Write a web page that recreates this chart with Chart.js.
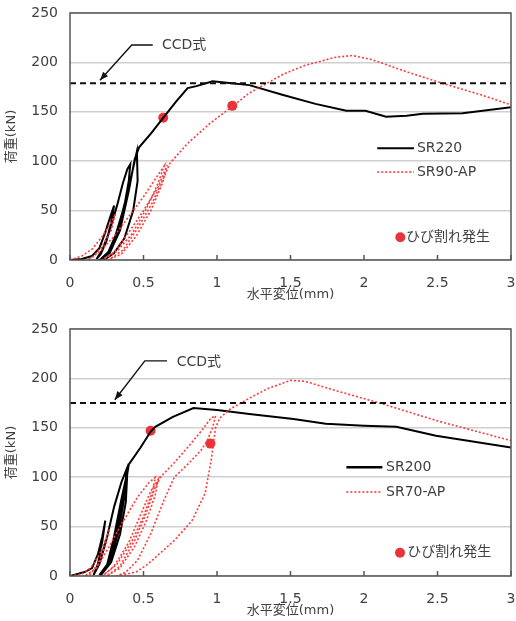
<!DOCTYPE html>
<html>
<head>
<meta charset="utf-8">
<script src="https://cdn.jsdelivr.net/npm/chart.js@4.4.1/dist/chart.umd.min.js"></script>
<style>
html, body { margin: 0; padding: 0; background: #fff; overflow: hidden; }
.box { position: absolute; left: 0; width: 516px; height: 302px; }
</style>
</head>
<body>
<div class="box" style="top:0"><canvas id="g1"></canvas></div>
<div class="box" style="top:316px"><canvas id="g2"></canvas></div>
<script>
// 軸
const xTicks = [0, 0.5, 1, 1.5, 2, 2.5, 3];
const yTicks = [0, 50, 100, 150, 200, 250];

// 上段: SR220 / SR90-AP  [変位(mm), 荷重(kN)]
const sr220 = [
  [0, 0], [0.08, 1], [0.15, 4], [0.2, 12], [0.24, 28], [0.27, 42], [0.3, 55],
  [0.28, 38], [0.25, 20], [0.21, 6], [0.18, 1],
  [0.22, 10], [0.27, 30], [0.32, 55], [0.36, 78], [0.39, 92], [0.41, 97],
  [0.4, 80], [0.37, 55], [0.33, 30], [0.27, 8], [0.21, 1],
  [0.26, 8], [0.31, 25], [0.36, 50], [0.41, 80], [0.44, 100], [0.455, 110],
  [0.46, 80], [0.43, 50], [0.37, 22], [0.3, 7], [0.24, 1], [0.2, 0],
  [0.27, 7], [0.34, 30], [0.4, 70], [0.44, 102], [0.47, 114],
  [0.55, 128], [0.63, 143], [0.72, 160], [0.8, 174], [0.86, 176], [0.97, 181],
  [1.1, 179], [1.22, 177], [1.45, 167], [1.67, 158], [1.88, 151], [2.01, 151],
  [2.15, 145], [2.29, 146], [2.4, 148], [2.67, 148.5], [3.0, 154.5]
];
const sr90ap = [
  [0, 0], [0.08, 4], [0.15, 11], [0.22, 24], [0.28, 38], [0.31, 47],
  [0.28, 30], [0.22, 14], [0.16, 4], [0.12, 0],
  [0.2, 8], [0.3, 24], [0.4, 44], [0.5, 64], [0.58, 82], [0.64, 95],
  [0.6, 78], [0.52, 52], [0.42, 26], [0.32, 9], [0.22, 0],
  [0.3, 8], [0.4, 28], [0.5, 50], [0.6, 74], [0.66, 96],
  [0.63, 78], [0.55, 50], [0.45, 24], [0.35, 6], [0.26, 0],
  [0.36, 10], [0.46, 32], [0.56, 58], [0.64, 84], [0.68, 98],
  [0.8, 118], [0.95, 138], [1.1, 155], [1.22, 169], [1.45, 188], [1.6, 197],
  [1.8, 205], [1.92, 207], [2.05, 203], [2.3, 190], [2.53, 179], [2.8, 167], [3.0, 157]
];
const crack1 = [[0.634, 144], [1.104, 156]];
const ccd1 = 179;

// 下段: SR200 / SR70-AP
const sr200 = [
  [0, 0], [0.1, 4], [0.15, 8], [0.19, 22], [0.22, 40], [0.24, 56],
  [0.22, 35], [0.19, 12], [0.16, 1],
  [0.2, 12], [0.25, 38], [0.3, 70], [0.35, 95], [0.385, 108],
  [0.37, 80], [0.33, 45], [0.27, 15], [0.2, 1],
  [0.25, 10], [0.3, 40], [0.35, 78], [0.39, 105],
  [0.38, 75], [0.34, 42], [0.28, 14], [0.21, 1],
  [0.27, 14], [0.32, 48], [0.37, 85], [0.4, 113],
  [0.48, 130], [0.548, 146], [0.58, 151], [0.7, 161], [0.84, 170], [1.0, 168],
  [1.22, 164], [1.52, 159], [1.74, 154], [2.0, 152], [2.22, 151], [2.49, 142], [3.0, 130]
];
const sr70ap = [
  [0, 0], [0.08, 2], [0.14, 8], [0.2, 22], [0.24, 36], [0.27, 48],
  [0.24, 30], [0.19, 12], [0.14, 2], [0.1, 0],
  [0.18, 8], [0.26, 28], [0.36, 55], [0.46, 80], [0.54, 95], [0.58, 100],
  [0.56, 85], [0.5, 60], [0.42, 35], [0.32, 12], [0.22, 0],
  [0.3, 10], [0.4, 34], [0.48, 62], [0.55, 86], [0.6, 98],
  [0.58, 82], [0.52, 56], [0.44, 30], [0.34, 8], [0.25, 0],
  [0.34, 10], [0.44, 36], [0.52, 64], [0.58, 90], [0.62, 101],
  [0.7, 113], [0.8, 130], [0.9, 148], [0.96, 160], [0.99, 162],
  [0.97, 150], [0.93, 136], [0.89, 127], [0.8, 113], [0.71, 100], [0.64, 77],
  [0.55, 43], [0.46, 16], [0.38, 4], [0.32, 0],
  [0.45, 4], [0.53, 12], [0.71, 36], [0.83, 56], [0.92, 84], [0.96, 117],
  [0.99, 150], [1.02, 160], [1.09, 169], [1.22, 180], [1.35, 190], [1.5, 198],
  [1.6, 197], [1.8, 188], [2.13, 174], [2.5, 157], [3.0, 137]
];
const crack2 = [[0.548, 147], [0.955, 134]];
const ccd2 = 175;

const FONT = "'DejaVu Sans', 'Noto Sans CJK JP', sans-serif";
const TXT = '#404040';
const RED = '#ff3a3a';

Chart.defaults.font.family = FONT;
Chart.defaults.font.size = 14;
Chart.defaults.color = TXT;

const pts = (arr) => arr.map(([x, y]) => ({ x, y }));

// 枠線・内向き目盛・CCD式の矢印・凡例を描く
const decoPlugin = {
  id: 'deco',
  afterDraw(chart, args, o) {
    const { ctx, chartArea: a } = chart;
    const sx = chart.scales.x, sy = chart.scales.y;
    const X = (v) => sx.getPixelForValue(v);
    const Y = (v) => sy.getPixelForValue(v);
    ctx.save();

    ctx.strokeStyle = '#555';
    ctx.lineWidth = 1.5;
    ctx.strokeRect(a.left, a.top, a.right - a.left, a.bottom - a.top);
    ctx.beginPath();
    xTicks.forEach((v) => {
      ctx.moveTo(X(v), a.bottom);
      ctx.lineTo(X(v), a.bottom - 5);
    });
    ctx.stroke();

    // CCD式
    const tip = [X(o.tip[0]), Y(o.tip[1])];
    const elb = [X(o.elbow[0]), Y(o.elbow[1])];
    ctx.strokeStyle = '#111';
    ctx.fillStyle = '#111';
    ctx.lineWidth = 1.4;
    ctx.beginPath();
    ctx.moveTo(X(o.elbowEnd), elb[1]);
    ctx.lineTo(elb[0], elb[1]);
    ctx.lineTo(tip[0], tip[1]);
    ctx.stroke();
    const ang = Math.atan2(tip[1] - elb[1], tip[0] - elb[0]);
    ctx.beginPath();
    ctx.moveTo(tip[0], tip[1]);
    ctx.lineTo(tip[0] - 9 * Math.cos(ang - 0.38), tip[1] - 9 * Math.sin(ang - 0.38));
    ctx.lineTo(tip[0] - 9 * Math.cos(ang + 0.38), tip[1] - 9 * Math.sin(ang + 0.38));
    ctx.closePath();
    ctx.fill();

    ctx.font = '14px ' + FONT;
    ctx.textBaseline = 'middle';
    ctx.fillStyle = TXT;
    ctx.fillText('CCD式', X(o.ccdText[0]), Y(o.ccdText[1]));

    // 凡例
    o.legend.forEach((it) => {
      const yy = Y(it.y);
      ctx.beginPath();
      ctx.strokeStyle = it.color;
      ctx.lineWidth = it.width;
      ctx.setLineDash(it.dash);
      ctx.moveTo(X(it.x0), yy);
      ctx.lineTo(X(it.x1), yy);
      ctx.stroke();
      ctx.setLineDash([]);
      ctx.fillStyle = TXT;
      ctx.fillText(it.label, X(it.tx), yy);
    });
    const c = o.crack;
    ctx.fillStyle = '#e8333a';
    ctx.beginPath();
    ctx.arc(X(c.x), Y(c.y), 5, 0, Math.PI * 2);
    ctx.fill();
    ctx.fillStyle = TXT;
    ctx.fillText('ひび割れ発生', X(c.tx), Y(c.y));

    ctx.restore();
  }
};

function makeChart(id, blk, red, crack, ccd, decoOpts) {
  return new Chart(document.getElementById(id), {
    type: 'scatter',
    data: {
      datasets: [
        { data: [{ x: 0, y: ccd }, { x: 3, y: ccd }], showLine: true, borderColor: '#111', borderWidth: 2, borderDash: [6, 4], pointRadius: 0 },
        { data: pts(red), showLine: true, borderColor: RED, borderWidth: 1.6, borderDash: [2, 2], pointRadius: 0, tension: 0 },
        { data: pts(blk), showLine: true, borderColor: '#000', borderWidth: 2, pointRadius: 0, tension: 0 },
        { data: pts(crack), showLine: false, pointRadius: 5, backgroundColor: '#e8333a', borderWidth: 0 }
      ]
    },
    options: {
      responsive: true,
      maintainAspectRatio: false,
      animation: false,
      layout: { padding: { top: 13, right: 4, left: 0, bottom: 0 } },
      plugins: { legend: { display: false }, tooltip: { enabled: false }, deco: decoOpts },
      scales: {
        x: {
          type: 'linear', min: 0, max: 3,
          afterFit: (s) => { s.height = 42; s.paddingLeft = 0; s.paddingRight = 0; },
          afterBuildTicks: (s) => { s.ticks = xTicks.map((v) => ({ value: v })); },
          grid: { display: false },
          border: { display: false },
          ticks: { padding: 7, maxRotation: 0, callback: (v) => String(v) },
          title: { display: true, text: '水平変位(mm)', color: TXT, font: { size: 13 }, padding: { top: 0, bottom: 0 } }
        },
        y: {
          type: 'linear', min: 0, max: 250,
          afterFit: (s) => { s.width = 70; s.paddingTop = 0; s.paddingBottom = 0; },
          afterBuildTicks: (s) => { s.ticks = yTicks.map((v) => ({ value: v })); },
          grid: { color: '#cfcfcf', lineWidth: 1.5, drawTicks: false },
          border: { display: false },
          ticks: { padding: 12, callback: (v) => String(v) },
          title: { display: true, text: '荷重(kN)', color: TXT, font: { size: 13 }, padding: { top: 4, bottom: 0 } }
        }
      }
    },
    plugins: [decoPlugin]
  });
}

makeChart('g1', sr220, sr90ap, crack1, ccd1, {
  tip: [0.204, 182], elbow: [0.42, 217.6], elbowEnd: 0.563, ccdText: [0.625, 217.6],
  legend: [
    { label: 'SR220', y: 113, x0: 2.09, x1: 2.34, tx: 2.36, color: '#000', width: 2, dash: [] },
    { label: 'SR90-AP', y: 89, x0: 2.09, x1: 2.34, tx: 2.36, color: RED, width: 1.6, dash: [2, 2] }
  ],
  crack: { x: 2.247, y: 23, tx: 2.286 }
});

makeChart('g2', sr200, sr70ap, crack2, ccd2, {
  tip: [0.305, 178.4], elbow: [0.509, 217.7], elbowEnd: 0.66, ccdText: [0.726, 216],
  legend: [
    { label: 'SR200', y: 110, x0: 1.88, x1: 2.125, tx: 2.15, color: '#000', width: 2.5, dash: [] },
    { label: 'SR70-AP', y: 85, x0: 1.88, x1: 2.125, tx: 2.15, color: RED, width: 1.6, dash: [2, 2] }
  ],
  crack: { x: 2.245, y: 23.5, tx: 2.295 }
});
</script>
</body>
</html>
